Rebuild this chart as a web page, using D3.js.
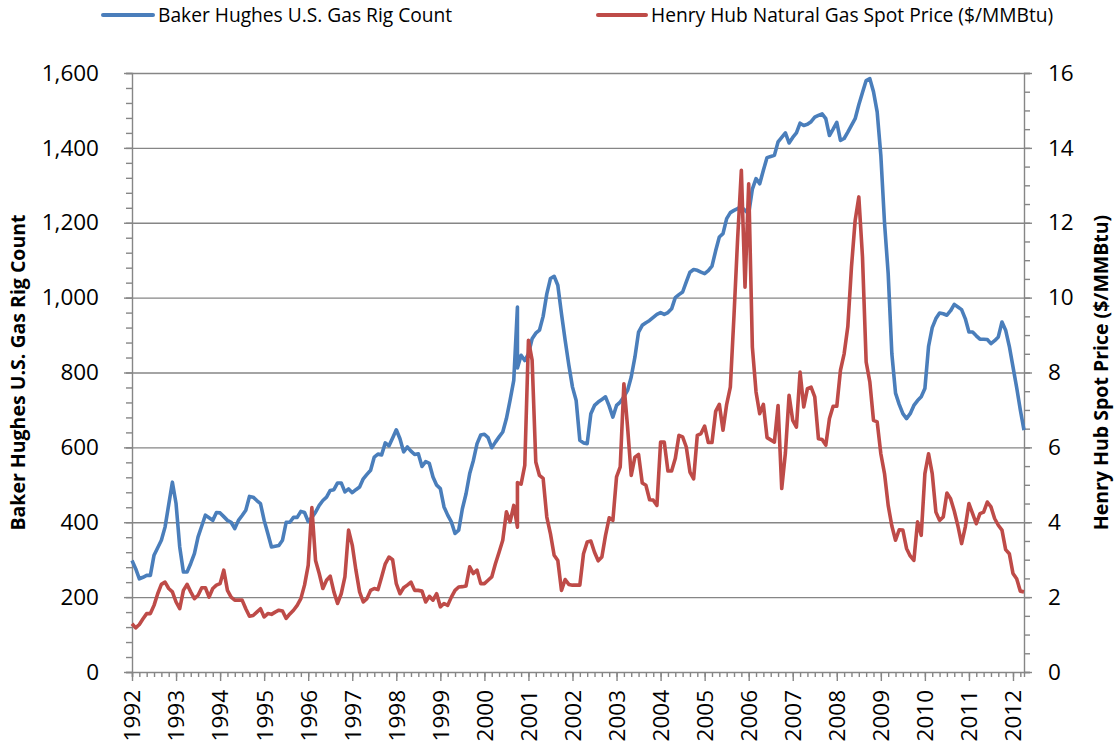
<!DOCTYPE html>
<html>
<head>
<meta charset="utf-8">
<script src="https://cdn.jsdelivr.net/npm/d3@7"></script>
<style>
  html, body { margin: 0; padding: 0; background: #fff; }
  svg { display: block; font-family: 'Open Sans', sans-serif; }
</style>
</head>
<body>
<svg id="chart" width="1115" height="747"></svg>
<script>
// Monthly values, Jan 1992 .. Apr 2012. Sep 2000 appears twice in the source
// (one bad entry), which gives the vertical jump in both lines.
const yearLabels = ['1992','1993','1994','1995','1996','1997','1998','1999','2000','2001','2002',
  '2003','2004','2005','2006','2007','2008','2009','2010','2011','2012'];

const rigCount = [
  298, 276, 249, 253, 258, 258, 312, 332, 352, 387, 447, 507,
  450, 334, 267, 267, 290, 316, 361, 390, 419, 412, 405, 426,
  425, 415, 405, 400, 383, 405, 418, 432, 469, 467, 458, 450,
  405, 370, 334, 336, 338, 352, 400, 400, 413, 413, 429, 426,
  402, 413, 427, 445, 458, 467, 485, 487, 505, 505, 481, 489,
  479, 487, 494, 516, 528, 539, 574, 582, 580, 612, 604, 625,
  647, 623, 588, 601, 590, 581, 583, 549, 562, 557, 521, 499,
  490, 441, 419, 401, 370, 379, 436, 476, 530, 565, 610, 633,
  635, 626, 599, 614, 628, 641, 677, 726, 779, 975, 812,
  846, 832, 850, 890, 905, 913, 950, 1010, 1051, 1057, 1033, 957, 886, 820,
  761, 725, 619, 612, 610, 690, 712, 721, 728, 735, 710, 681,
  712, 721, 735, 752, 788, 841, 908, 926, 933, 939, 947, 955,
  960, 955, 960, 970, 1000, 1008, 1015, 1042, 1068, 1075, 1073, 1068,
  1064, 1072, 1084, 1125, 1162, 1171, 1211, 1227, 1233, 1238, 1242, 1233,
  1224, 1290, 1318, 1304, 1340, 1374, 1377, 1380, 1416, 1428, 1440, 1413,
  1428, 1440, 1466, 1460, 1463, 1470, 1482, 1487, 1491, 1478, 1433, 1450,
  1468, 1420, 1425, 1442, 1460, 1478, 1515, 1548, 1580, 1585, 1550, 1496,
  1380, 1200, 1064, 850, 745, 715, 690, 677, 690, 712, 725, 735,
  757, 870, 920, 944, 959, 957, 953, 965, 982, 975, 968, 944,
  908, 908, 898, 889, 889, 888, 877, 885, 895, 935, 913, 870,
  815, 760, 700, 646
];

const henryHub = [
  1.29, 1.18, 1.27, 1.42, 1.56, 1.56, 1.78, 2.09, 2.34, 2.40, 2.23, 2.14,
  1.87, 1.69, 2.18, 2.34, 2.14, 1.96, 2.05, 2.25, 2.25, 2.00, 2.23, 2.32,
  2.36, 2.72, 2.18, 2.00, 1.92, 1.92, 1.92, 1.69, 1.49, 1.51, 1.60, 1.69,
  1.47, 1.56, 1.54, 1.60, 1.65, 1.63, 1.43, 1.55, 1.65, 1.78, 1.96, 2.32,
  2.85, 4.39, 2.98, 2.63, 2.23, 2.45, 2.56, 2.14, 1.83, 2.09, 2.54, 3.79,
  3.39, 2.72, 2.14, 1.87, 1.96, 2.18, 2.23, 2.20, 2.54, 2.89, 3.07, 3.00,
  2.36, 2.09, 2.25, 2.32, 2.40, 2.18, 2.18, 2.16, 1.87, 2.02, 1.92, 2.09,
  1.74, 1.83, 1.78, 2.00, 2.18, 2.27, 2.28, 2.30, 2.81, 2.63, 2.72, 2.36,
  2.36, 2.45, 2.54, 2.89, 3.20, 3.52, 4.28, 4.01, 4.45, 3.87, 5.06,
  5.02, 5.52, 8.86, 8.33, 5.61, 5.25, 5.17, 4.14, 3.69, 3.12, 2.98, 2.18, 2.47, 2.34,
  2.32, 2.32, 2.32, 3.16, 3.47, 3.50, 3.20, 2.97, 3.07, 3.65, 4.12, 4.05,
  5.21, 5.48, 7.70, 6.55, 5.25, 5.74, 5.81, 5.05, 4.99, 4.60, 4.59, 4.45,
  6.14, 6.14, 5.37, 5.37, 5.70, 6.32, 6.28, 6.01, 5.34, 5.16, 6.32, 6.37,
  6.57, 6.13, 6.13, 6.96, 7.15, 6.46, 7.15, 7.61, 9.53, 11.60, 13.40, 10.28,
  13.04, 8.68, 7.48, 6.90, 7.15, 6.26, 6.20, 6.14, 7.12, 4.90, 5.85, 7.39,
  6.72, 6.54, 8.01, 7.08, 7.57, 7.61, 7.35, 6.23, 6.21, 6.06, 6.77, 7.10,
  7.10, 8.06, 8.50, 9.22, 10.82, 12.06, 12.69, 11.09, 8.28, 7.75, 6.72, 6.68,
  5.83, 5.30, 4.45, 3.90, 3.52, 3.80, 3.79, 3.30, 3.10, 2.98, 4.01, 3.65,
  5.30, 5.83, 5.30, 4.27, 4.05, 4.14, 4.78, 4.63, 4.30, 3.90, 3.43, 3.87,
  4.50, 4.23, 3.96, 4.23, 4.27, 4.54, 4.41, 4.10, 3.92, 3.79, 3.27, 3.16,
  2.63, 2.49, 2.16, 2.14
];

const rigTicks = [0, 200, 400, 600, 800, 1000, 1200, 1400, 1600];
const priceTicks = [0, 2, 4, 6, 8, 10, 12, 14, 16];

const legendLabels = ['Baker Hughes U.S. Gas Rig Count', 'Henry Hub Natural Gas Spot Price ($/MMBtu)'];
const leftTitle = 'Baker Hughes U.S. Gas Rig Count';
const rightTitle = 'Henry Hub Spot Price ($/MMBtu)';

const blue = '#4A7EBB';
const red = '#BE4B48';
const axisGrey = '#868686';
const tickFont = 22.5;

// month offset from Jan 1992 for each entry (the duplicate Sep 2000 shares its month)
const dupIdx = 106;
const monthOf = i => (i < dupIdx ? i : i - 1);

const svg = d3.select('#chart');
const plotL = 132, plotR = 1024, plotT = 73, plotB = 672;

const x = d3.scaleLinear().domain([0, 243]).range([plotL, plotR]);
const yL = d3.scaleLinear().domain([0, 1600]).range([plotB, plotT]);
const yR = d3.scaleLinear().domain([0, 16]).range([plotB, plotT]);

// Gridlines
svg.append('g')
  .attr('transform', `translate(${plotL},0)`)
  .call(d3.axisLeft(yL).tickValues(rigTicks.slice(1)).tickSize(-(plotR - plotL)).tickFormat(''))
  .call(g => g.select('.domain').remove())
  .call(g => g.selectAll('line').attr('stroke', axisGrey).attr('stroke-width', 1.4));

// Left axis: minor then major
svg.append('g')
  .attr('transform', `translate(${plotL},0)`)
  .call(d3.axisLeft(yL).tickValues(d3.range(0, 1601, 40)).tickSize(6).tickFormat(''))
  .call(g => g.selectAll('line,path').attr('stroke', axisGrey).attr('stroke-width', 1.4));

svg.append('g')
  .attr('transform', `translate(${plotL},0)`)
  .call(d3.axisLeft(yL).tickValues(rigTicks).tickSize(8).tickPadding(25).tickFormat(d3.format(',')))
  .call(g => g.select('.domain').remove())
  .call(g => g.selectAll('line').attr('stroke', axisGrey).attr('stroke-width', 1.4))
  .call(g => g.selectAll('text').attr('font-size', tickFont).attr('fill', '#000')
    .attr('font-family', "'Open Sans', sans-serif"));

// Right axis
svg.append('g')
  .attr('transform', `translate(${plotR},0)`)
  .call(d3.axisRight(yR).tickValues(d3.range(0, 16.01, 0.5)).tickSize(6).tickFormat(''))
  .call(g => g.selectAll('line,path').attr('stroke', axisGrey).attr('stroke-width', 1.4));

svg.append('g')
  .attr('transform', `translate(${plotR},0)`)
  .call(d3.axisRight(yR).tickValues(priceTicks).tickSize(8).tickPadding(16).tickFormat(d3.format('d')))
  .call(g => g.select('.domain').remove())
  .call(g => g.selectAll('line').attr('stroke', axisGrey).attr('stroke-width', 1.4))
  .call(g => g.selectAll('text').attr('font-size', tickFont).attr('fill', '#000')
    .attr('font-family', "'Open Sans', sans-serif"));

// Bottom axis: minor ticks every 2 months, major at each January
svg.append('g')
  .attr('transform', `translate(0,${plotB})`)
  .call(d3.axisBottom(x).tickValues(d3.range(0, 244, 2)).tickSize(5).tickFormat(''))
  .call(g => g.selectAll('line,path').attr('stroke', axisGrey).attr('stroke-width', 1.4));

svg.append('g')
  .attr('transform', `translate(0,${plotB})`)
  .call(d3.axisBottom(x).tickValues(yearLabels.map((d, i) => i * 12)).tickSize(9)
    .tickFormat((d, i) => yearLabels[i]))
  .call(g => g.select('.domain').remove())
  .call(g => g.selectAll('line').attr('stroke', axisGrey).attr('stroke-width', 1.4))
  .call(g => g.selectAll('text')
    .attr('font-size', tickFont).attr('fill', '#000')
    .attr('font-family', "'Open Sans', sans-serif")
    .attr('transform', 'rotate(-90)')
    .attr('x', -18).attr('y', 0).attr('dy', '0.35em')
    .style('text-anchor', 'end'));

// Lines
const rigLine = d3.line()
  .x((d, i) => x(monthOf(i)))
  .y(d => yL(d));
const priceLine = d3.line()
  .x((d, i) => x(monthOf(i)))
  .y(d => yR(d));

svg.append('path')
  .datum(rigCount)
  .attr('d', rigLine)
  .attr('fill', 'none')
  .attr('stroke', blue)
  .attr('stroke-width', 3.6)
  .attr('stroke-linejoin', 'round');

svg.append('path')
  .datum(henryHub)
  .attr('d', priceLine)
  .attr('fill', 'none')
  .attr('stroke', red)
  .attr('stroke-width', 3.6)
  .attr('stroke-linejoin', 'round');

// Legend
const legend = svg.append('g');
[[103, 153, blue], [598, 646, red]].forEach(([x0, x1, c], i) => {
  legend.append('line')
    .attr('x1', x0).attr('x2', x1).attr('y1', 15).attr('y2', 15)
    .attr('stroke', c).attr('stroke-width', 4).attr('stroke-linecap', 'round');
  legend.append('text')
    .attr('x', x1 + 5).attr('y', 22)
    .attr('font-size', 19.2)
    .attr('fill', '#000')
    .text(legendLabels[i]);
});

// Axis titles
svg.append('text')
  .attr('transform', `translate(25,${(plotT + plotB) / 2}) rotate(-90)`)
  .attr('text-anchor', 'middle')
  .attr('font-size', 19.5)
  .attr('font-weight', 700)
  .text(leftTitle);

svg.append('text')
  .attr('transform', `translate(1108,${(plotT + plotB) / 2}) rotate(-90)`)
  .attr('text-anchor', 'middle')
  .attr('font-size', 19.5)
  .attr('font-weight', 700)
  .text(rightTitle);
</script>
</body>
</html>
